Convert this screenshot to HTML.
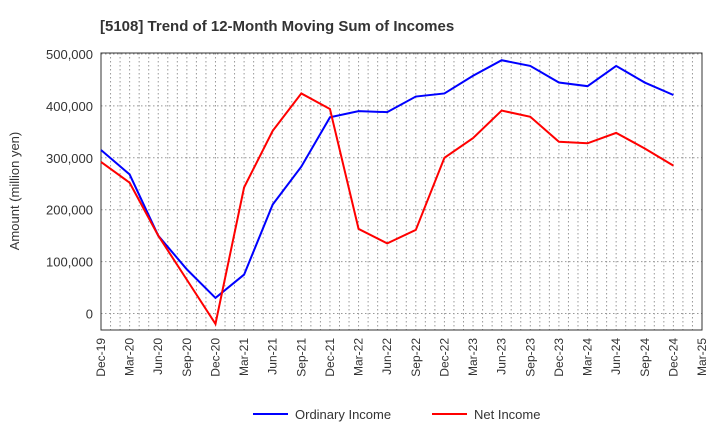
<!DOCTYPE html>
<html><head><meta charset="utf-8"><style>
body{margin:0;background:#fff;font-family:"Liberation Sans",sans-serif}
svg text{font-family:"Liberation Sans",sans-serif}
</style></head><body>
<svg id="chart" width="720" height="440">
<text x="100" y="31" font-size="15" font-weight="bold" fill="#333">[5108]  Trend of 12-Month Moving Sum of Incomes</text>
<g id="grid"></g><g id="axes"></g><g id="series"></g>
<text transform="translate(19,191) rotate(-90)" text-anchor="middle" font-size="13" fill="#333">Amount (million yen)</text>
<g>
<line x1="253" y1="414" x2="288" y2="414" stroke="#0000ff" stroke-width="2"/>
<text x="295" y="419" font-size="13" fill="#333">Ordinary Income</text>
<line x1="432" y1="414" x2="467" y2="414" stroke="#ff0000" stroke-width="2"/>
<text x="474" y="419" font-size="13" fill="#333">Net Income</text>
</g>
</svg>
<script>
const categories=["Dec-19","Mar-20","Jun-20","Sep-20","Dec-20","Mar-21","Jun-21","Sep-21","Dec-21","Mar-22","Jun-22","Sep-22","Dec-22","Mar-23","Jun-23","Sep-23","Dec-23","Mar-24","Jun-24","Sep-24","Dec-24","Mar-25"];
const ordinaryIncome=[315000,268000,150000,85000,30000,75000,210000,283000,378000,390000,388000,418000,424000,458000,488000,477000,445000,438000,477000,445000,421000];
const netIncome=[292000,252000,150000,65000,-20000,243000,352000,424000,394000,163000,135000,161000,300000,338000,391000,379000,331000,328000,348000,318000,285000];
const yTicks=[0,100000,200000,300000,400000,500000];
const L=101,R=702,T=53,B=330,Y0=313.5,PER=51.9;
const xs=i=>L+i*(R-L)/21;
const ys=v=>Y0-v/100000*PER;
const NS="http://www.w3.org/2000/svg";
function mk(t,a,p){const e=document.createElementNS(NS,t);for(const k in a)e.setAttribute(k,a[k]);p.appendChild(e);return e;}
const grid=document.getElementById('grid'),axes=document.getElementById('axes'),ser=document.getElementById('series');
for(let m=1;m<63;m++){const x=L+m*(R-L)/63;
const g=mk('line',{x1:x,y1:T,x2:x,y2:B,stroke:'#999','stroke-dasharray':'1.5,2.5','stroke-width':1},grid);

}
yTicks.forEach(v=>{const y=ys(v);
const g=mk('line',{x1:L,y1:y,x2:R,y2:y,stroke:'#999','stroke-dasharray':'1.5,2.5'},grid);


const t=mk('text',{x:L-8,y:y+5,'text-anchor':'end','font-size':13,fill:'#333'},axes);t.textContent=v.toLocaleString('en-US');

});
const fr=mk('rect',{x:L,y:T,width:R-L,height:B-T,fill:'none',stroke:'#333','stroke-width':1},axes);


categories.forEach((c,i)=>{const x=xs(i);
const t=mk('text',{transform:`translate(${x+4},${B+8}) rotate(-90)`,'text-anchor':'end','font-size':12,fill:'#333'},axes);t.textContent=c;

});
function line(arr,col,name){const p=mk('polyline',{points:arr.map((v,i)=>xs(i)+','+ys(v)).join(' '),fill:'none',stroke:col,'stroke-width':2},ser);

}
line(ordinaryIncome,'#0000ff','ordinary-income-line');
line(netIncome,'#ff0000','net-income-line');
</script>
</body></html>
